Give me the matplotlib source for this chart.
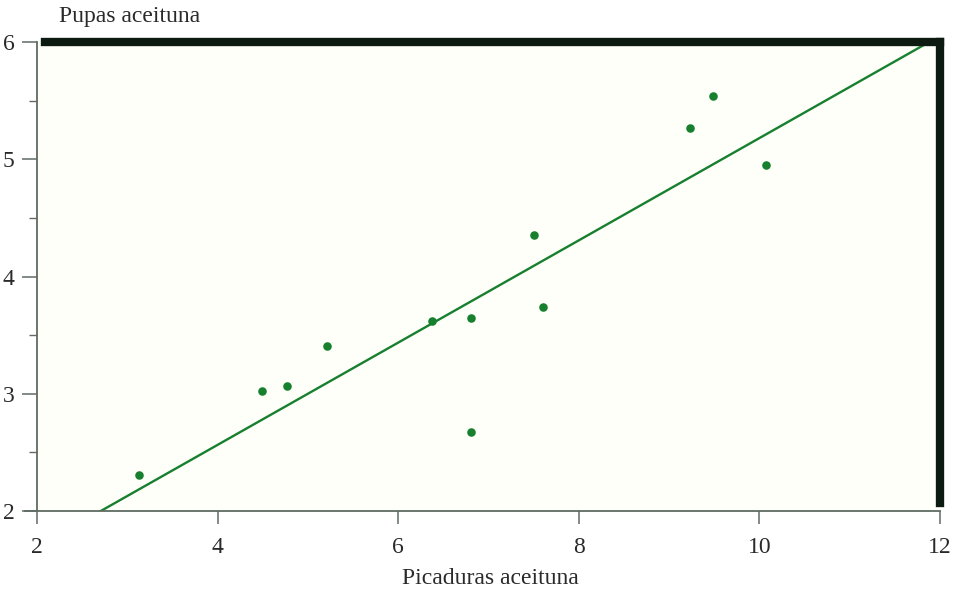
import numpy as np
import matplotlib
matplotlib.use("Agg")
from matplotlib import pyplot as plt
from matplotlib.ticker import MultipleLocator

# picaduras (x) y pupas (y) por aceituna
picaduras = [3.13, 4.49, 4.77, 5.21, 6.37, 6.81, 6.81, 7.50, 7.60, 9.23, 9.49, 10.08]
pupas = [2.31, 3.02, 3.07, 3.41, 3.62, 3.65, 2.67, 4.35, 3.74, 5.27, 5.54, 4.95]

# recta ajustada: ordenada en el origen y pendiente
recta_orden = 0.82
recta_pend = 0.436

x_ticks = [2, 4, 6, 8, 10, 12]
y_ticks = [2, 3, 4, 5, 6]

verde = '#17802f'
gris = '#5f6b63'
texto = '#2a2a2a'

plt.rcParams['font.family'] = ['Liberation Serif', 'DejaVu Serif']

fig = plt.figure(figsize=(9.6, 5.97), dpi=100)
ax = fig.add_axes([0.0385, 0.144, 0.9405, 0.7856])
ax.set_facecolor('#fffffa')

xs = np.array([2.0, 12.0])
ax.plot(xs, recta_orden + recta_pend * xs, color=verde, linewidth=1.7, zorder=2)

ax.scatter(picaduras, pupas, s=38, color=verde, zorder=3, linewidths=0)

ax.set_xlim(2, 12)
ax.set_ylim(2, 6)
ax.set_xticks(x_ticks)
ax.set_yticks(y_ticks)
ax.yaxis.set_minor_locator(MultipleLocator(0.5))

ax.tick_params(axis='x', direction='out', length=9, width=1.1, color=gris,
               labelsize=17, labelcolor=texto, pad=10)
ax.tick_params(axis='y', which='major', direction='out', length=11, width=1.1,
               color=gris, labelsize=17, labelcolor=texto, pad=5)
ax.tick_params(axis='y', which='minor', direction='out', length=6, width=1.0, color=gris)

for lado in ['left', 'bottom']:
    ax.spines[lado].set_color(gris)
    ax.spines[lado].set_linewidth(1.3)
ax.spines['bottom'].set_bounds(1.87, 12)

for lado in ['top', 'right']:
    ax.spines[lado].set_color('#0c1a12')
    ax.spines[lado].set_linewidth(6)
    ax.spines[lado].set_capstyle('projecting')
ax.spines['top'].set_bounds(2.09, 12)
ax.spines['right'].set_bounds(2.07, 6)

fig.text(0.0615, 0.972, 'Pupas aceituna', fontsize=17, color=texto, va='center')
fig.text(0.511, 0.031, 'Picaduras aceituna', fontsize=17, color=texto,
         ha='center', va='center')

fig.savefig('out.png', dpi=100, facecolor='white')
